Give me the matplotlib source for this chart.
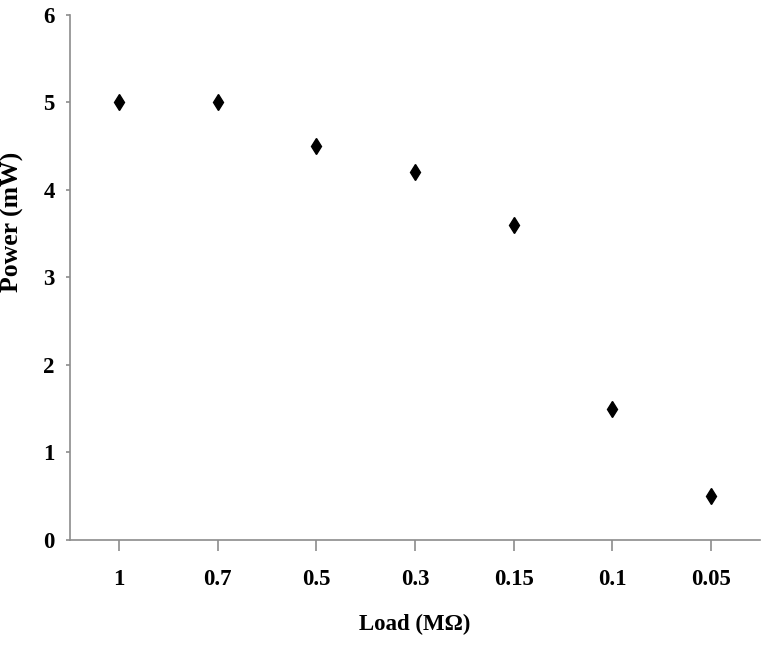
import matplotlib
matplotlib.use('Agg')
import matplotlib.pyplot as plt

# load resistance (MΩ) and measured power (mW)
loads = ['1', '0.7', '0.5', '0.3', '0.15', '0.1', '0.05']
power = [5.0, 5.0, 4.5, 4.2, 3.6, 1.5, 0.5]

plt.rcParams['font.family'] = ['Liberation Serif', 'DejaVu Serif']
plt.rcParams['font.weight'] = 'bold'

fig = plt.figure(figsize=(7.68, 6.52), dpi=100)
ax = fig.add_axes([0.0911, 0.1718, 0.8985, 0.8052])

x = range(len(loads))
ax.plot(x, power, linestyle='none', marker='d', markersize=8.5,
        color='black')

ax.set_xlim(-0.5, len(loads) - 0.5)
ax.set_ylim(0, 6)
ax.set_xticks(list(x))
ax.set_xticklabels(loads)
ax.set_yticks(range(0, 7))

for s in ['top', 'right']:
    ax.spines[s].set_visible(False)
for s in ['left', 'bottom']:
    ax.spines[s].set_color('#8c8c8c')
    ax.spines[s].set_linewidth(1.2)

ax.tick_params(axis='x', direction='out', length=8, width=1.2,
               color='#8c8c8c', pad=13, labelsize=16.5)
ax.tick_params(axis='y', direction='out', length=3, width=1.2,
               color='#8c8c8c', pad=8, labelsize=16.5)

ax.set_xlabel('Load (MΩ)', fontsize=16.5, fontweight='bold')
ax.set_ylabel('Power (mW)', fontsize=18.5, fontweight='bold')
ax.xaxis.set_label_coords(0.5, -0.14)
ax.yaxis.set_label_coords(-0.066, 0.605)

plt.savefig('out.png', dpi=100)
